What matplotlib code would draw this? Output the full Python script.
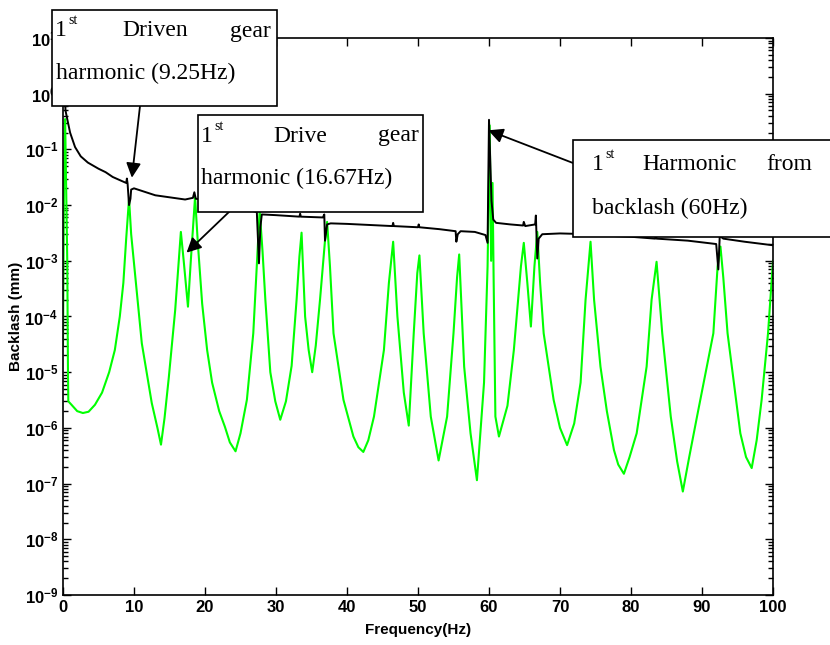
"""Backlash spectrum with harmonic annotations (log scale)."""

import math

import matplotlib

matplotlib.use('Agg')
import matplotlib.pyplot as plt
from matplotlib.patches import Rectangle
from matplotlib.ticker import LogLocator, FixedLocator, NullFormatter, FuncFormatter

plt.rcParams['font.family'] = 'Liberation Sans'
plt.rcParams['mathtext.fontset'] = 'custom'
plt.rcParams['mathtext.rm'] = 'Liberation Sans:bold'
plt.rcParams['mathtext.bf'] = 'Liberation Sans:bold'

# --- data ---
green_f = [0.0, 0.15, 0.3, 0.45, 0.6, 0.7, 0.75, 1.2, 2.0, 2.8, 3.6, 4.5, 5.5, 6.5, 7.3,
           8.0, 8.5, 8.9, 9.3, 9.6, 10.2, 11.1, 12.5, 13.3, 13.8, 14.3, 14.9, 15.8, 16.3,
           16.6, 17.0, 17.6, 18.0, 18.4, 18.6, 19.0, 19.6, 20.3, 21.0, 22.0, 22.8, 23.5,
           24.3, 25.0, 25.9, 26.8, 27.3, 27.7, 28.1, 28.5, 29.2, 29.9, 30.6, 31.4, 32.2,
           32.9, 33.3, 33.6, 34.1, 34.6, 35.1, 35.6, 36.2, 36.9, 37.2, 37.6, 38.1, 39.5,
           40.9, 41.6, 42.3, 43.0, 43.8, 45.2, 45.9, 46.5, 47.1, 48.0, 48.7, 49.4, 49.9,
           50.2, 50.8, 51.8, 52.9, 54.1, 55.0, 55.5, 55.8, 56.5, 57.4, 58.3, 59.3, 59.8,
           60.1, 60.3, 60.5, 60.65, 60.9, 61.4, 62.6, 63.5, 64.5, 64.9, 65.4, 65.9, 66.4,
           66.8, 67.2, 67.7, 69.1, 70.0, 71.0, 72.0, 72.9, 73.6, 74.3, 74.8, 75.7, 76.6,
           77.6, 78.2, 79.0, 79.8, 80.8, 82.2, 82.9, 83.6, 84.4, 85.6, 86.5, 87.3, 88.2,
           89.3, 91.6, 92.2, 92.6, 93.0, 93.6, 95.4, 96.2, 97.0, 97.7, 98.4, 99.3, 100.0]
green_v = [3e-5, 5e-2, 0.35, 2e-2, 1e-3, 1e-5, 3e-6, 2.6e-6, 2e-6, 1.85e-6, 1.95e-6, 2.6e-6,
           4.3e-6, 1e-5, 2.5e-5, 1e-4, 4e-4, 2.5e-3, 1.3e-2, 3e-3, 5e-4, 3.3e-5, 2.8e-6,
           1e-6, 5e-7, 1.5e-6, 8e-6, 1.3e-4, 1e-3, 3.3e-3, 1e-3, 1.5e-4, 1e-3, 6e-3, 1.4e-2,
           2e-3, 1.7e-4, 2.5e-5, 6.5e-6, 2e-6, 1.05e-6, 5.5e-7, 3.8e-7, 8e-7, 3.2e-6, 5e-5,
           8e-4, 8e-3, 1.5e-3, 2e-4, 1e-5, 3e-6, 1.4e-6, 3e-6, 1.3e-5, 2e-4, 1.2e-3, 3.2e-3,
           1e-4, 2.5e-5, 1e-5, 3e-5, 2e-4, 2.3e-3, 5e-3, 8e-4, 5e-5, 3.2e-6, 7e-7, 4.5e-7,
           3.7e-7, 6e-7, 1.6e-6, 2.5e-5, 4e-4, 2.2e-3, 1e-4, 4.3e-6, 1.1e-6, 5e-5, 6e-4,
           1.25e-3, 5e-5, 1.6e-6, 2.6e-7, 1.6e-6, 5e-5, 5e-4, 1.3e-3, 1.26e-5, 8e-7,
           1.15e-7, 6.5e-6, 8e-4, 0.27, 1e-3, 2.5e-2, 5e-4, 1.6e-6, 7e-7, 2.5e-6, 2.5e-5,
           8e-4, 2.1e-3, 4e-4, 6.6e-5, 8e-4, 3.3e-3, 4e-4, 5e-5, 3.2e-6, 1e-6, 4.9e-7,
           1.2e-6, 6.5e-6, 2e-4, 2.2e-3, 2e-4, 1.26e-5, 2e-6, 4e-7, 2.2e-7, 1.5e-7, 3e-7,
           8e-7, 1.26e-5, 2e-4, 9.6e-4, 5e-5, 1.6e-6, 2.5e-7, 7.2e-8, 3e-7, 1.6e-6, 5e-5,
           8e-4, 1.8e-3, 5e-4, 5e-5, 8e-7, 3e-7, 1.9e-7, 6e-7, 3.2e-6, 5e-5, 1e-3]

black_f = [0.05, 0.2, 0.35, 0.6, 1.0, 1.7, 2.5, 3.5, 5.0, 6.0, 7.0, 8.3, 8.9, 9.0, 9.1,
           9.3, 9.5, 9.6, 10.0, 13.0, 17.2, 18.3, 18.5, 18.7, 21.0, 24.0, 27.3, 27.6,
           27.8, 28.0, 30.0, 33.3, 33.4, 33.5, 36.6, 36.8, 36.9, 37.2, 37.7, 40.0, 46.4,
           46.5, 46.6, 50.0, 50.1, 50.2, 53.0, 55.3, 55.4, 55.6, 56.0, 58.0, 59.5, 59.8,
           60.0, 60.2, 60.35, 60.6, 61.0, 63.0, 64.8, 64.9, 65.1, 66.5, 66.6, 66.8, 67.0,
           67.5, 70.0, 74.2, 74.3, 74.4, 80.0, 83.4, 83.5, 83.6, 88.0, 92.0, 92.3, 92.5,
           93.0, 96.0, 100.0]
black_v = [8.0, 2.0, 0.5, 0.35, 0.2, 0.11, 0.075, 0.058, 0.045, 0.039, 0.032, 0.027, 0.025,
           0.03, 0.024, 0.010, 0.013, 0.019, 0.020, 0.015, 0.0126, 0.0135, 0.017, 0.013,
           0.012, 0.010, 0.0075, 0.0009, 0.004, 0.0068, 0.0066, 0.0062, 0.007, 0.0062,
           0.006, 0.0068, 0.0023, 0.0045, 0.0047, 0.0046, 0.0042, 0.0048, 0.0042, 0.0040,
           0.0045, 0.0040, 0.0037, 0.0034, 0.0022, 0.0030, 0.0034, 0.0033, 0.0029, 0.0021,
           0.34, 0.05, 0.012, 0.0055, 0.0048, 0.0045, 0.0043, 0.005, 0.0042, 0.0045,
           0.0065, 0.0011, 0.0025, 0.0030, 0.0031, 0.0030, 0.0034, 0.0029, 0.0027, 0.0025,
           0.003, 0.0025, 0.0023, 0.0020, 0.0007, 0.0028, 0.0025, 0.0022, 0.0019]

x_ticks = [0, 10, 20, 30, 40, 50, 60, 70, 80, 90, 100]

W, H = 830, 645
fig = plt.figure(figsize=(W / 100, H / 100), dpi=100)
ax = fig.add_axes([63 / W, 1 - 595 / H, (773 - 63) / W, (595 - 38) / H])

ax.plot(green_f, green_v, color='#00ff00', lw=1.5)
ax.plot(black_f, black_v, color='black', lw=1.4)

ax.set_yscale('log')
ax.set_xlim(0, 100)
ax.set_ylim(1e-9, 1e1)
ax.xaxis.set_major_locator(FixedLocator(x_ticks))
ax.yaxis.set_major_locator(LogLocator(base=10, numticks=20))
ax.yaxis.set_minor_locator(LogLocator(base=10, subs=range(2, 10), numticks=20))
ax.yaxis.set_minor_formatter(NullFormatter())
ax.yaxis.set_major_formatter(
    FuncFormatter(lambda v, p: r'$\mathbf{10^{%d}}$' % round(math.log10(v))))
ax.tick_params(which='both', direction='in', top=True, right=True, width=1)
ax.tick_params(which='major', length=6, labelsize=12)
ax.tick_params(which='minor', length=3.5)
for lab in ax.get_xticklabels():
    lab.set_fontweight('bold')
for s in ax.spines.values():
    s.set_linewidth(1.2)

ax.set_xlabel('Frequency(Hz)', fontsize=11, fontweight='bold', labelpad=6)
ax.set_ylabel('Backlash (mm)', fontsize=11, fontweight='bold', labelpad=1)


def px(x, y):
    return x / W, 1 - y / H


def box(x0, y0, x1, y1):
    fig.add_artist(Rectangle(px(x0, y1), (x1 - x0) / W, (y1 - y0) / H,
                             transform=fig.transFigure, facecolor='white',
                             edgecolor='black', lw=1.2, zorder=5))


def word(x, y, s, size=17, ha='left'):
    fig.text(*px(x, y), s, family='Liberation Serif', fontsize=size, ha=ha,
             va='center', zorder=6)


# box 1
box(52, 10, 277, 106)
word(55, 31, '1')
word(68, 21, 'st', size=10)
word(122, 31, 'Driven')
word(271, 31, 'gear', ha='right')
word(56, 73, 'harmonic (9.25Hz)')
# box 2
box(198, 115, 423, 212)
word(201, 136, '1')
word(214, 126, 'st', size=10)
word(273, 136, 'Drive')
word(419, 136, 'gear', ha='right')
word(201, 178, 'harmonic (16.67Hz)')
# box 3
box(573, 140, 835, 237)
word(592, 165, '1')
word(605, 155, 'st', size=10)
word(642, 165, 'Harmonic')
word(812, 165, 'from', ha='right')
word(592, 208, 'backlash (60Hz)')

arrow = dict(arrowstyle='-|>', mutation_scale=22, color='black', lw=1.3,
             shrinkA=0, shrinkB=0)
ax.annotate('', xy=(9.7, 0.031), xytext=(140, H - 106),
            textcoords='figure pixels', arrowprops=arrow)
ax.annotate('', xy=(17.4, 1.4e-3), xytext=(230, H - 211),
            textcoords='figure pixels', arrowprops=arrow)
ax.annotate('', xy=(59.9, 0.22), xytext=(573, H - 163),
            textcoords='figure pixels', arrowprops=arrow)

fig.savefig('out.png', dpi=100)
